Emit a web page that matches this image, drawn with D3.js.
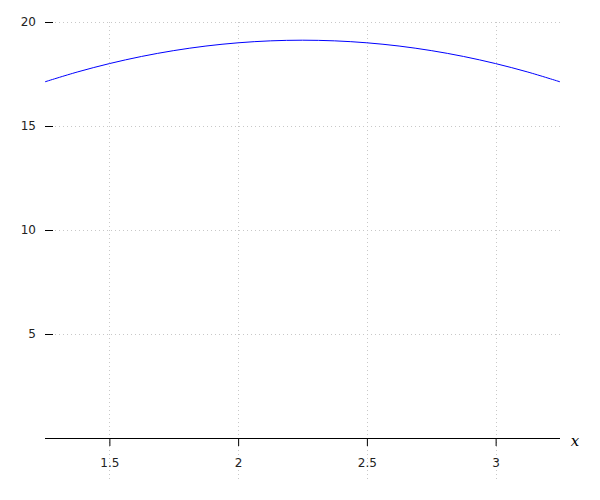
<!DOCTYPE html>
<html>
<head>
<meta charset="utf-8">
<script src="https://cdn.jsdelivr.net/npm/d3@7"></script>
<style>
  html, body { margin: 0; padding: 0; background: #fff; }
  svg { display: block; }
</style>
</head>
<body>
<svg id="chart" width="600" height="500"></svg>
<script>
// Data
const xValues = [1.25, 1.375, 1.5, 1.625, 1.75, 1.875, 2.0, 2.125, 2.25, 2.375, 2.5, 2.625, 2.75, 2.875, 3.0, 3.125, 3.25];
const yValues = [17.125, 17.594, 18.0, 18.344, 18.625, 18.844, 19.0, 19.094, 19.125, 19.094, 19.0, 18.844, 18.625, 18.344, 18.0, 17.594, 17.125];
const xTicks = [1.5, 2, 2.5, 3];
const xTickLabels = ["1.5", "2", "2.5", "3"];
const yTicks = [5, 10, 15, 20];
const yTickLabels = ["5", "10", "15", "20"];
const xDomain = [1.25, 3.25];
const yDomain = [0, 20];
const xAxisLabel = "x";

const svg = d3.select("#chart");
const x = d3.scaleLinear().domain(xDomain).range([45, 560]);
const y = d3.scaleLinear().domain(yDomain).range([438, 22]);

const font = "DejaVu Sans, sans-serif";
const gridColor = "#c8c8c8";

// vertical gridlines
svg.append("g").selectAll("line").data(xTicks).join("line")
  .attr("x1", d => Math.round(x(d)) + 0.5).attr("x2", d => Math.round(x(d)) + 0.5)
  .attr("y1", y(20)).attr("y2", 480)
  .attr("stroke", gridColor).attr("stroke-width", 1).attr("stroke-dasharray", "1,3");

// horizontal gridlines
svg.append("g").selectAll("line").data(yTicks).join("line")
  .attr("x1", 55).attr("x2", 560)
  .attr("y1", d => Math.round(y(d)) + 0.5).attr("y2", d => Math.round(y(d)) + 0.5)
  .attr("stroke", gridColor).attr("stroke-width", 1).attr("stroke-dasharray", "1,3");

// x axis
const xAxis = d3.axisBottom(x).tickValues(xTicks)
  .tickFormat((d, i) => xTickLabels[i]).tickSize(8).tickPadding(12).tickSizeOuter(0);
const gx = svg.append("g").attr("transform", `translate(0,${y(0)})`).call(xAxis);
gx.select(".domain").attr("stroke", "#000").attr("d", `M${x(xDomain[0])},0.5H${x(xDomain[1])}`);
gx.selectAll(".tick line").attr("stroke", "#000");
gx.selectAll(".tick text").attr("font-family", font).attr("font-size", 12).attr("fill", "#222");

// y axis (ticks only, no line)
const yAxis = d3.axisRight(y).tickValues(yTicks)
  .tickFormat((d, i) => yTickLabels[i]).tickSize(8).tickSizeOuter(0);
const gy = svg.append("g").attr("transform", `translate(45,0)`).call(yAxis);
gy.select(".domain").remove();
gy.selectAll(".tick line").attr("stroke", "#000");
gy.selectAll(".tick text").attr("font-family", font).attr("font-size", 12).attr("fill", "#222")
  .attr("text-anchor", "end").attr("x", -9);

// x axis label
svg.append("text").attr("x", 575).attr("y", 446)
  .attr("text-anchor", "middle")
  .attr("font-family", "DejaVu Serif, serif").attr("font-style", "italic")
  .attr("font-size", 15).attr("fill", "#000").text(xAxisLabel);

// curve
const pts = xValues.map((v, i) => [v, yValues[i]]);
svg.append("path").datum(pts)
  .attr("fill", "none").attr("stroke", "#0000ff").attr("stroke-width", 1)
  .attr("d", d3.line().x(d => x(d[0])).y(d => y(d[1])).curve(d3.curveCatmullRom));
</script>
</body>
</html>
